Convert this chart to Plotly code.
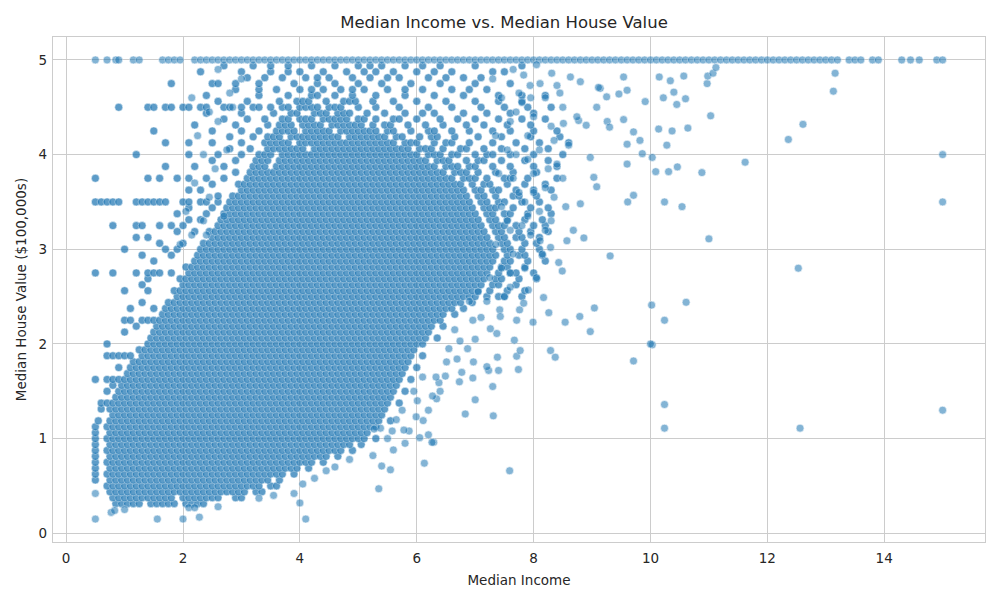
import plotly.graph_objects as go

# California block groups: median income (x) vs median house value (y, $100,000s).
# The dense cloud is stored as a run-length mask: for each house-value level the
# income spans that are covered by points (0.1 income pitch).
cloud_rows = [
    (0.3125, "0.85-0.95 1.05-1.25 1.45-1.85 2.05-2.35"),
    (0.375, "0.8-1.8 2.0-2.6 2.9-3.0"),
    (0.4375, "0.75-3.05 3.25-3.35"),
    (0.5, "0.7-3.3 3.5-3.6"),
    (0.5625, "0.5 0.75-3.45 3.65"),
    (0.625, "0.5 0.7-3.7 3.9"),
    (0.6875, "0.5 0.75-3.95 4.15"),
    (0.75, "0.5 0.7-4.2 4.4"),
    (0.8125, "0.5 0.75-4.45 4.65"),
    (0.875, "0.5 0.7-4.7 4.9"),
    (0.9375, "0.5 0.75-4.85 5.05"),
    (1.0, "0.5 0.7-5.1 5.3"),
    (1.0625, "0.5 0.75-5.15"),
    (1.125, "0.5 0.7-5.3"),
    (1.1875, "0.55 0.75-5.35 5.55"),
    (1.25, "0.8-5.4"),
    (1.3125, "0.6 0.75-5.45"),
    (1.375, "0.6-5.5 5.7"),
    (1.4375, "0.85-5.55"),
    (1.5, "0.7 0.9-5.6 5.8"),
    (1.5625, "0.8 0.95-5.65"),
    (1.625, "0.5 0.7-5.7 5.9"),
    (1.6875, "1.05-5.75"),
    (1.75, "0.9 1.1-5.8 6.0"),
    (1.8125, "1.15-5.85"),
    (1.875, "0.7-1.1 1.3-5.9 6.1"),
    (1.9375, "1.25-5.95"),
    (2.0, "0.7 1.4-6.1"),
    (2.0625, "1.45-6.15 6.35"),
    (2.125, "1.0 1.5-6.2"),
    (2.1875, "1.2 1.55-6.25 6.45"),
    (2.25, "1.0-1.1 1.3-6.4"),
    (2.3125, "1.65-6.45 6.65"),
    (2.375, "1.1 1.5 1.7-6.6 6.8"),
    (2.4375, "1.3 1.75-6.75 6.95"),
    (2.5, "1.9-7.0 7.2 7.4-7.5 7.8"),
    (2.5625, "1.0 1.4 1.85-7.05 7.25 7.55 7.85"),
    (2.625, "1.3 2.0-7.1 7.3-7.4 7.7"),
    (2.6875, "1.4 1.95-7.15 7.35-7.45 7.75 8.05"),
    (2.75, "0.5 0.8 1.2 1.4-1.6 1.8 2.1-7.2 7.4 7.6-7.7 8.0"),
    (2.8125, "2.05-7.25 7.45-7.55 7.85"),
    (2.875, "1.5 2.2-7.3 7.5-7.6 7.9 8.2"),
    (2.9375, "1.3 1.8 2.25-7.35 7.55 7.75-7.85 8.15"),
    (3.0, "1.0 1.7 1.9 2.3-7.3 7.5-7.6 7.8 8.1"),
    (3.0625, "1.6 2.0 2.35-7.25 7.45-7.55 7.85 8.05"),
    (3.125, "1.2 1.4 2.5-7.2 7.4-7.5 7.7-7.8 8.1"),
    (3.1875, "1.9 2.2 2.45-7.15 7.35-7.45 7.75 7.95 8.25"),
    (3.25, "0.8 1.2-1.3 1.6 1.8 2.0 2.6-7.1 7.3-7.5 7.7 8.0 8.2"),
    (3.3125, "2.1 2.3 2.65-7.05 7.25-7.35 7.55 7.85 8.15"),
    (3.375, "1.9 2.4 2.7-7.0 7.2-7.3 7.5-7.6 7.9 8.3"),
    (3.4375, "2.1 2.5 2.75-6.95 7.15-7.35 7.65 7.95 8.25"),
    (3.5, "0.5-0.9 1.2-1.7 2.0-2.1 2.3-2.4 2.6 2.8-6.9 7.1-7.2 7.4-7.5 7.8 8.1"),
    (3.5625, "2.6 2.85-6.85 7.05-7.15 7.35 7.65-7.75 8.05"),
    (3.625, "2.1 2.3 3.0-6.8 7.0-7.1 7.3-7.4 7.7 8.0 8.3"),
    (3.6875, "2.5 2.95-6.75 6.95 7.15-7.25 7.55 7.85 8.2"),
    (3.75, "0.5 1.4 1.6 1.9 2.1 2.4 2.7 3.1-6.6 6.8-7.0 7.2 7.5-7.6 7.9 8.4"),
    (3.8125, "2.9 3.15-6.45 6.65-6.85 7.05 7.35 7.65 8.05"),
    (3.875, "1.7 2.2 2.7 3.2-3.4 3.6-6.3 6.5-6.7 6.9-7.0 7.3 7.6 8.0 8.4"),
    (3.9375, "2.5 2.9 3.25-3.45 3.65-6.15 6.35-6.55 6.85 7.05-7.15 7.45 7.85 8.25"),
    (4.0, "1.2 2.1 2.6 3.0 3.3-3.5 3.7-6.0 6.2-6.4 6.6-6.7 7.0 7.2-7.3 7.6 8.0 8.5"),
    (4.0625, "2.8 3.15 3.45-4.05 4.25-5.85 6.05-6.25 6.45 6.75-6.85 7.15 7.45 7.85 8.25"),
    (4.125, "1.7 2.1 2.5 3.0 3.4-3.8 4.0-5.6 5.8-6.0 6.3 6.5-6.6 6.9 7.3 7.7 8.1 8.6"),
    (4.1875, "2.8 3.2 3.45-3.65 3.85-4.65 4.85-5.45 5.65-5.75 6.05 6.25-6.35 6.65 7.05 7.45 7.95 8.45"),
    (4.25, "1.5 2.5 3.0 3.3 3.6-3.9 4.1-4.5 4.7-5.3 5.5-5.6 5.9 6.2-6.3 6.6 6.9 7.3 7.6 8.0 8.4"),
    (4.3125, "2.2 2.9 3.45 3.65-3.85 4.05-4.35 4.55-5.05 5.25 5.45-5.55 5.85 6.15 6.45 6.85 7.15 7.55 7.95"),
    (4.375, "2.7 3.1 3.4 3.7-3.8 4.0-4.2 4.4-4.8 5.0-5.1 5.3 5.6-5.7 6.0 6.4 6.7 7.0 7.4 7.8 8.2"),
    (4.4375, "2.4 3.0 3.55 3.85-3.95 4.25-4.45 4.65-4.85 5.15 5.45 5.8 6.1 6.3 6.8 7.2 7.6 8.0"),
    (4.5, "0.9 1.4-1.5 1.7-1.8 2.0-2.1 2.3-2.4 2.7-2.8 3.0 3.2-3.3 3.5 3.7-3.8 4.0-4.3 4.5-4.7 5.0 5.3 5.7 6.2 6.6 7.1 7.5 7.9 8.3"),
    (4.5625, "2.6 3.1 3.65 3.95-4.15 4.45 4.75-4.95 5.25 5.6 6.0 6.5 7.0 7.4 7.8"),
    (4.625, "2.4 3.3 3.8 4.2-4.3 4.6 4.9 5.3 5.8 6.3 6.8 7.4 7.8 8.2"),
    (4.6875, "2.9 3.3 3.6 4.0 4.2 4.4 4.7 4.9 5.1 5.5 5.8 6.1 6.6 6.9 7.2"),
    (4.75, "1.8 2.5-2.6 2.9 3.3 3.9 4.3 4.6 5.0 5.4 5.9 6.4 7.0 7.6"),
    (4.8125, "3.1 3.4 3.7 4.1 4.3 4.5 4.9 5.2 5.5 5.7 6.2 6.5 6.8 7.1"),
    (4.875, "2.3 3.0 3.5 3.8 4.0 4.4 4.8 5.1 5.3 5.6 6.0 6.3 6.6 7.3 7.5"),
    (4.9375, "2.7 3.2 3.5 3.8 4.2 4.6 5.0 5.2 5.4 5.8 6.1 6.4 7.0 7.8"),
]

# house values were top-coded at 5.00001
cap_value = 5.0
cap_spans = "0.5 0.7 0.85 0.9 1.15 1.25 1.65 1.75 1.85 1.95 2.2-13.2 13.4-13.6 13.8-13.9 14.3 14.45 14.6 14.9-15.0"

# isolated points outside the cloud (income, value)
loose_points = [
    (0.5, 0.15), (1.56, 0.15), (2.0, 0.15), (2.28, 0.17), (4.1, 0.15), (0.77, 0.22),
    (0.83, 0.24), (1.0, 0.25), (2.1, 0.27), (2.2, 0.27), (2.6, 0.28), (0.5, 0.42),
    (3.3, 0.37), (3.55, 0.4), (3.9, 0.42), (4.0, 0.32), (4.05, 0.52), (4.25, 0.58),
    (4.45, 0.66), (4.6, 0.7), (4.85, 0.78), (5.35, 0.47), (5.4, 0.71), (5.55, 0.67),
    (5.6, 0.88), (5.25, 0.82), (6.13, 0.74), (6.29, 0.96), (6.2, 1.04), (6.05, 1.01),
    (7.59, 0.66), (5.8, 0.95), (5.5, 1.0),
    (8.17, 2.49), (8.26, 2.33), (8.54, 2.23), (8.79, 2.29), (8.97, 2.13), (9.04, 2.38),
    (10.02, 2.41), (10.24, 2.25), (10.03, 1.99), (9.71, 1.82), (10.24, 1.36), (10.24, 1.11),
    (6.01, 1.4), (5.99, 1.23), (6.11, 1.19), (6.83, 1.26), (7.31, 1.24), (7.0, 1.41),
    (7.3, 1.55), (6.96, 1.64), (6.73, 1.6), (6.77, 1.7), (7.23, 1.72), (7.4, 1.72),
    (7.74, 1.73), (7.2, 1.76), (7.38, 1.86), (7.71, 1.87), (6.97, 1.81), (7.77, 1.93),
    (8.29, 1.93), (8.37, 1.86), (7.67, 2.04), (7.37, 2.11), (7.26, 2.16), (7.99, 2.23),
    (7.71, 2.25), (7.76, 2.36), (7.83, 2.43), (7.91, 2.57), (7.6, 2.6), (7.42, 2.36),
    (7.43, 2.29), (7.1, 2.28), (6.96, 2.25), (6.74, 2.03), (6.87, 1.95), (6.69, 1.84),
    (6.51, 1.81), (6.49, 1.66), (6.38, 1.59), (6.33, 1.65), (6.34, 1.42), (6.27, 1.45),
    (6.26, 0.96), (5.87, 1.08), (5.78, 1.09), (5.58, 1.08), (5.38, 1.11), (5.27, 1.1),
    (6.2, 1.3), (6.4, 1.5), (6.55, 1.95), (6.65, 2.15), (6.9, 2.45), (7.05, 2.55),
    (7.2, 2.45), (6.1, 1.65), (5.95, 1.5), (5.75, 1.3), (5.65, 1.2), (7.0, 2.05),
    (7.25, 2.7), (7.45, 2.8), (7.65, 2.95), (7.85, 2.8), (8.05, 2.7), (7.5, 2.5),
    (2.15, 3.15), (2.35, 3.3), (2.05, 3.4), (2.45, 3.55), (2.2, 3.7), (2.55, 3.85),
    (2.35, 4.0), (2.75, 4.05), (2.25, 4.2), (2.6, 4.35), (2.85, 4.5), (2.45, 4.45),
    (2.15, 4.6), (2.8, 4.65), (3.0, 4.8), (2.6, 4.9), (1.95, 3.05), (2.4, 3.15),
    (2.7, 3.35),
    (7.35, 3.05), (7.6, 3.2), (7.45, 3.45), (7.75, 3.6), (7.4, 3.8), (7.55, 4.05),
    (7.35, 4.2), (7.7, 4.45), (7.45, 4.6), (7.95, 4.6), (7.3, 4.8), (7.65, 4.9),
    (8.05, 4.95), (8.35, 4.15), (8.0, 3.6), (7.9, 3.35), (8.3, 3.3), (8.55, 3.45),
    (8.15, 2.95), (7.6, 2.75),
    (9.54, 4.82), (9.6, 4.68), (9.91, 4.56), (9.46, 4.64), (9.54, 4.37), (9.71, 4.24),
    (9.82, 4.15), (9.6, 4.11), (9.86, 4.01), (9.6, 3.9), (9.71, 3.57), (9.61, 3.5),
    (9.31, 2.93), (9.26, 4.35), (9.3, 4.29), (9.08, 4.5), (9.14, 4.7), (9.25, 4.61),
    (8.77, 4.36), (8.97, 3.97), (9.03, 3.76), (9.08, 3.66), (8.8, 3.48), (8.68, 3.2),
    (8.57, 3.09), (8.86, 3.12), (8.29, 3.02), (8.11, 3.09), (8.43, 2.86), (8.49, 2.77),
    (8.63, 4.82), (8.8, 4.77), (9.11, 4.71), (8.4, 4.73), (8.74, 4.4), (8.9, 4.31),
    (8.51, 4.33), (8.31, 4.86), (8.11, 4.75), (7.83, 4.84), (7.94, 4.73), (7.8, 4.55),
    (8.0, 4.4), (8.2, 4.6), (7.9, 4.2), (8.1, 4.05), (8.3, 4.3), (8.5, 4.5),
    (7.7, 4.0), (8.0, 3.8), (8.2, 3.65), (8.4, 3.9), (7.85, 3.5), (8.1, 3.4),
    (8.35, 3.55), (7.95, 3.15), (8.2, 3.2), (8.5, 3.75), (8.6, 4.1), (8.45, 4.65),
    (7.6, 4.35), (7.75, 4.65), (7.65, 3.75), (7.9, 3.95), (8.25, 3.85), (7.55, 3.3),
    (7.8, 3.25),
    (10.15, 4.82), (10.22, 4.6), (10.4, 4.66), (10.14, 4.27), (10.03, 3.97), (10.09, 3.82),
    (10.31, 3.82), (10.24, 3.5), (10.28, 4.1), (10.46, 3.87), (10.37, 4.25), (10.34, 4.78),
    (10.57, 4.83), (10.97, 4.75), (10.98, 4.83), (11.07, 4.86), (11.12, 4.92), (10.6, 4.59),
    (10.45, 4.53), (10.64, 4.28), (11.03, 4.41), (10.88, 3.81), (11.62, 3.92), (10.54, 3.45),
    (11.0, 3.11), (12.36, 4.16), (12.61, 4.32), (13.13, 4.67), (13.16, 4.86), (15.0, 4.0),
    (15.0, 3.5), (12.53, 2.8), (10.61, 2.44), (12.56, 1.11), (15.0, 1.3), (10.0, 2.0),
]


def expand(spans, step=0.1):
    # turn "a-b c" into the list of incomes a, a+0.1, ..., b, c
    out = []
    for tok in spans.split():
        if "-" in tok:
            a, b = map(float, tok.split("-"))
            n = int(round((b - a) / step))
            out += [round(a + i * step, 3) for i in range(n + 1)]
        else:
            out.append(float(tok))
    return out


cloud_x, cloud_y = [], []
for level, spans in cloud_rows:
    xs = expand(spans)
    cloud_x += xs
    cloud_y += [level] * len(xs)

cap_x = expand(cap_spans)
edge_x = cap_x + [p[0] for p in loose_points]
edge_y = [cap_value] * len(cap_x) + [p[1] for p in loose_points]

fig = go.Figure()
# the cloud stands for thousands of stacked points, so it is drawn more opaque
fig.add_trace(go.Scatter(
    x=cloud_x, y=cloud_y, mode="markers",
    marker=dict(size=8, color="#1f77b4", opacity=0.72,
                line=dict(color="white", width=0.5)),
    hoverinfo="skip",
))
fig.add_trace(go.Scatter(
    x=edge_x, y=edge_y, mode="markers",
    marker=dict(size=8, color="#1f77b4", opacity=0.55,
                line=dict(color="white", width=0.6)),
    hoverinfo="skip",
))

axis_style = dict(
    showgrid=True, gridcolor="#cccccc", gridwidth=1,
    zeroline=False, showline=True, linecolor="#cccccc", linewidth=1.2,
    mirror=True, ticks="", automargin=False,
    tickfont=dict(size=13.5, color="#262626"),
)

# the page body adds an 8px offset, so the figure is 8px smaller than the window
fig.update_layout(
    width=992, height=592,
    margin=dict(l=45, r=15, t=29, b=58),
    paper_bgcolor="white", plot_bgcolor="white",
    font=dict(family="DejaVu Sans", size=13.5, color="#262626"),
    showlegend=False,
    title=dict(text="Median Income vs. Median House Value", x=0.5, xanchor="center",
               y=1 - 14 / 592, yanchor="middle", yref="container",
               font=dict(size=16.5, color="#262626")),
    xaxis=dict(range=[-0.225, 15.725], tickvals=[0, 2, 4, 6, 8, 10, 12, 14],
               ticklabelstandoff=4,
               title=dict(text="Median Income", standoff=10, font=dict(size=13.5)),
               **axis_style),
    yaxis=dict(range=[-0.0925, 5.2425], tickvals=[0, 1, 2, 3, 4, 5],
               ticklabelstandoff=2,
               title=dict(text="Median House Value ($100,000s)", standoff=8, font=dict(size=13.5)),
               **axis_style),
)

fig.write_html("out.html")
